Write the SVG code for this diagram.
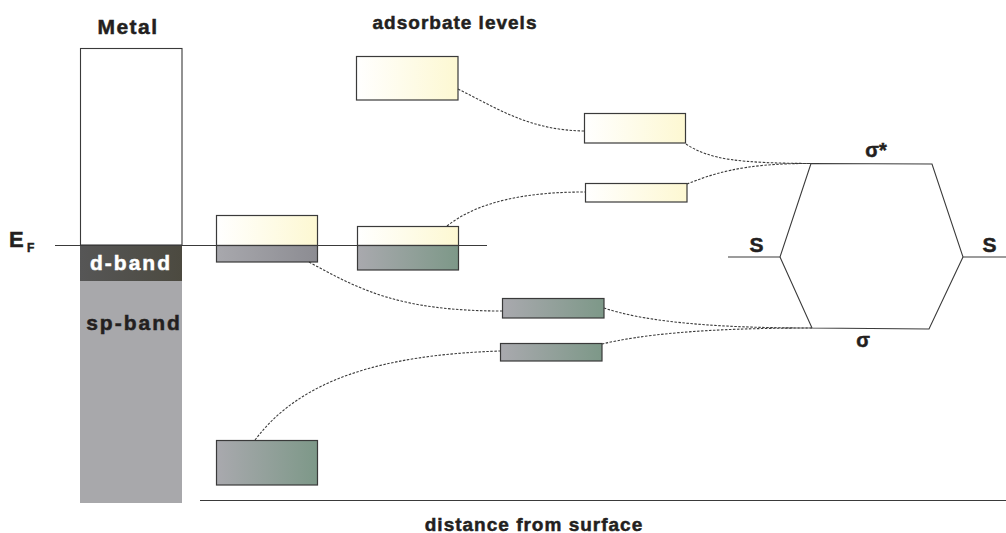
<svg xmlns="http://www.w3.org/2000/svg" width="1006" height="533" viewBox="0 0 1006 533">
  <defs>
    <linearGradient id="gYellow" x1="0" y1="0" x2="1" y2="0">
      <stop offset="0" stop-color="#ffffff"/>
      <stop offset="1" stop-color="#fdf8d2"/>
    </linearGradient>
    <linearGradient id="gGreen" x1="0" y1="0" x2="1" y2="0">
      <stop offset="0" stop-color="#a9a9ae"/>
      <stop offset="1" stop-color="#7d9888"/>
    </linearGradient>
    <linearGradient id="gGray" x1="0" y1="0" x2="1" y2="0">
      <stop offset="0" stop-color="#a8a8ad"/>
      <stop offset="1" stop-color="#8c8c92"/>
    </linearGradient>
    <linearGradient id="gDark" x1="0" y1="0" x2="1" y2="0">
      <stop offset="0" stop-color="#565656"/>
      <stop offset="1" stop-color="#4c4a40"/>
    </linearGradient>
  </defs>
  <style>
    .lbl { font-family: "Liberation Sans", Arial, sans-serif; font-weight: bold; fill: #231f20; stroke: #231f20; stroke-width: 0.5; letter-spacing: 1px; }
    .inv { fill: #ffffff; stroke: #ffffff; }
    .box { stroke: #3a3a3a; stroke-width: 1.2; }
    .link { fill: none; stroke: #3a3a3a; stroke-width: 1.1; stroke-dasharray: 2.5 1.5; }
    .solid { fill: none; stroke: #3a3a3a; stroke-width: 1.1; }
  </style>
  <rect width="1006" height="533" fill="#ffffff"/>

  <!-- metal band column -->
  <g id="metal">
    <text class="lbl" x="128" y="34" font-size="21" text-anchor="middle" style="letter-spacing:1.5px">Metal</text>
    <rect x="80.5" y="48.5" width="101.5" height="196.5" fill="#ffffff" class="solid"/>
    <rect x="80" y="245" width="102" height="36" fill="url(#gDark)"/>
    <rect x="80" y="281" width="102" height="222" fill="#a8a8ab"/>
    <text x="131" y="270" font-size="21" text-anchor="middle" class="lbl inv" style="letter-spacing:2px">d-band</text>
    <text x="134" y="330" font-size="21" text-anchor="middle" class="lbl" style="letter-spacing:2px">sp-band</text>
  </g>

  <!-- Fermi level -->
  <g id="fermi">
    <line x1="55" y1="245.5" x2="487" y2="245.5" class="solid"/>
    <text class="lbl" x="9" y="247" font-size="22">E</text>
    <text class="lbl" x="27" y="252" font-size="12">F</text>
  </g>

  <!-- adsorbate level boxes -->
  <g id="adsorbate-label">
    <text class="lbl" x="455" y="29" font-size="19" text-anchor="middle">adsorbate levels</text>
  </g>
  <g id="level-near-top">
    <rect x="216.5" y="215.5" width="101" height="30" fill="url(#gYellow)" class="box"/>
    <rect x="216.5" y="245.5" width="101" height="16.5" fill="url(#gGray)" class="box"/>
  </g>
  <g id="level-near-mid">
    <rect x="357.5" y="226.5" width="101" height="19" fill="url(#gYellow)" class="box"/>
    <rect x="357.5" y="245.5" width="101" height="24.5" fill="url(#gGreen)" class="box"/>
  </g>
  <g id="level-top">
    <rect x="356.5" y="56.5" width="101.5" height="43.5" fill="url(#gYellow)" class="box"/>
  </g>
  <g id="level-upper">
    <rect x="584.5" y="113.5" width="101" height="29.5" fill="url(#gYellow)" class="box"/>
  </g>
  <g id="level-upper2">
    <rect x="585.5" y="183.5" width="101.5" height="18.5" fill="url(#gYellow)" class="box"/>
  </g>
  <g id="level-lower">
    <rect x="502.5" y="298.5" width="101.5" height="19.5" fill="url(#gGreen)" class="box"/>
  </g>
  <g id="level-lower2">
    <rect x="500.5" y="343.5" width="101.5" height="17.5" fill="url(#gGreen)" class="box"/>
  </g>
  <g id="level-bottom">
    <rect x="216.5" y="440.5" width="101" height="44.5" fill="url(#gGreen)" class="box"/>
  </g>

  <!-- molecular orbital diagram -->
  <g id="molecule">
    <polyline class="solid" points="728,257 780,257 811,163.5 932,164 963,257 1006,257"/>
    <polyline class="solid" points="780,257 812,328 929,329 963,257"/>
    <text class="lbl" x="757" y="252" font-size="21" text-anchor="middle">S</text>
    <text class="lbl" x="990" y="252" font-size="21" text-anchor="middle">S</text>
    <text class="lbl" x="876" y="157" font-size="20" text-anchor="middle" style="letter-spacing:0">σ*</text>
    <text class="lbl" x="863" y="347" font-size="20" text-anchor="middle" style="letter-spacing:0">σ</text>
  </g>

  <!-- distance axis -->
  <g id="axis">
    <line x1="200" y1="500.5" x2="1006" y2="500.5" class="solid"/>
    <text class="lbl" x="534" y="531" font-size="19" text-anchor="middle">distance from surface</text>
  </g>

  <!-- dashed correlation connectors -->
  <g id="connectors">
    <path class="link" d="M458,89 C500,110 530,130 584,131"/>
    <path class="link" d="M686,144 C710,160 740,163 811,163.5"/>
    <path class="link" d="M687,184 C710,175 740,163 811,163.5"/>
    <path class="link" d="M447,226 C480,200 530,192 585,192"/>
    <path class="link" d="M309,262 C360,290 400,311 502,311"/>
    <path class="link" d="M604,308 C640,320 700,328 812,328"/>
    <path class="link" d="M602,344 C640,335 700,328 812,328"/>
    <path class="link" d="M255,440 C300,380 380,355 500,351"/>
  </g>
</svg>
